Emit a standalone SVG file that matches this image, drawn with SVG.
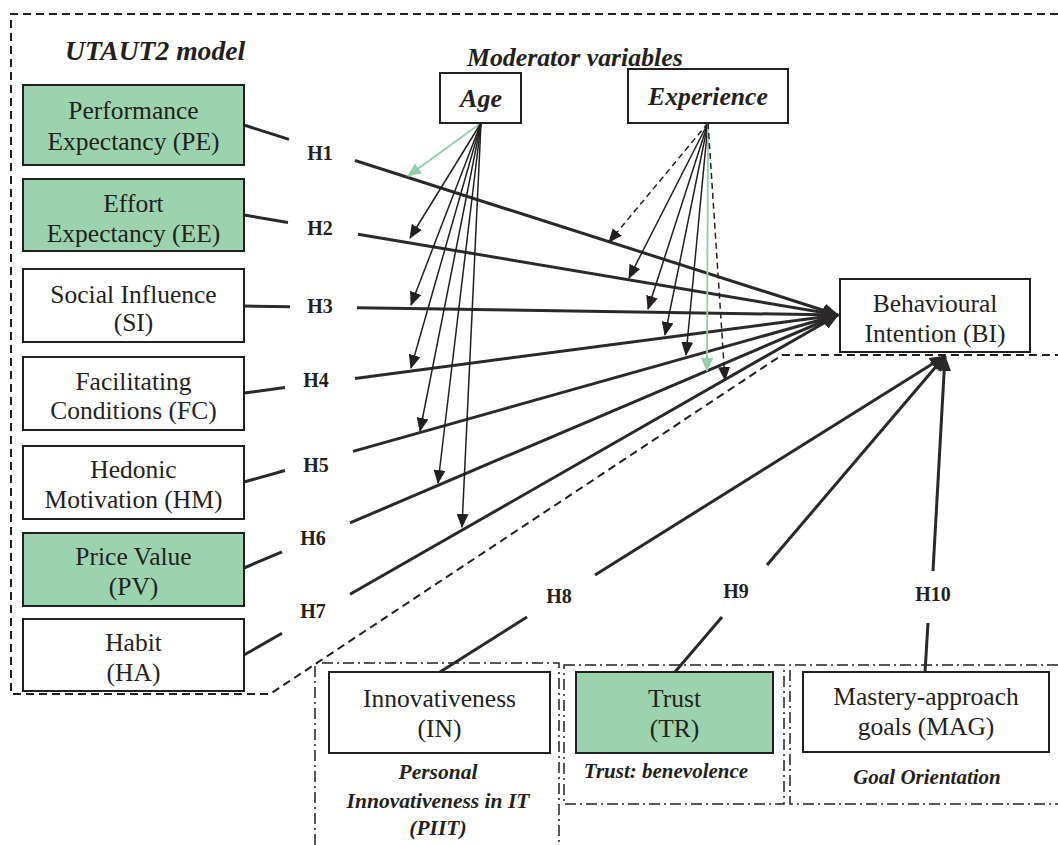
<svg xmlns="http://www.w3.org/2000/svg" width="1058" height="845" viewBox="0 0 1058 845">
<defs>
<style>
.box{fill:#ffffff;stroke:#231f20;stroke-width:2}
.g{fill:#9cd3af}
.t{font-family:"Liberation Serif","Times New Roman",serif;font-size:25.5px;fill:#231f20;text-anchor:middle}
.bi{font-family:"Liberation Serif","Times New Roman",serif;font-weight:bold;font-style:italic;fill:#231f20}
.h{font-family:"Liberation Serif","Times New Roman",serif;font-weight:bold;font-size:20px;fill:#231f20;text-anchor:middle}
.main{fill:none;stroke:#2b2829;stroke-width:3}
.mod{fill:none;stroke:#231f20;stroke-width:1.5}
.modg{fill:none;stroke:#8fd0a8;stroke-width:1.8}
.dash{stroke-dasharray:6 4}
.outer{fill:none;stroke:#231f20;stroke-width:2;stroke-dasharray:8 5}
.dd{fill:none;stroke:#231f20;stroke-width:1.5;stroke-dasharray:11 4 2 4}
</style>
<marker id="ab" markerUnits="userSpaceOnUse" markerWidth="14" markerHeight="12" refX="13" refY="6" orient="auto" viewBox="0 0 14 12"><path d="M0,0 L14,6 L0,12 Z" fill="#231f20"/></marker>
<marker id="ag" markerUnits="userSpaceOnUse" markerWidth="14" markerHeight="12" refX="13" refY="6" orient="auto" viewBox="0 0 14 12"><path d="M0,0 L14,6 L0,12 Z" fill="#8fd0a8"/></marker>
<marker id="am" markerUnits="userSpaceOnUse" markerWidth="16" markerHeight="14" refX="15" refY="7" orient="auto" viewBox="0 0 16 14"><path d="M0,0 L16,7 L0,14 Z" fill="#2b2829"/></marker>
</defs>
<rect width="1058" height="845" fill="#ffffff"/>

<g id="frames">
<path class="outer" d="M1058,14 L11,14 L11,694 L270,694 L782,355 L1058,355"/>
<path class="dd" d="M315,845 L315,663 L559,663 L559,845"/>
<path class="dd" d="M564,665 L784,665 L784,804 L564,804 Z"/>
<path class="dd" d="M1058,665 L790,665 L790,804 L1058,804"/>
<text class="bi" x="65" y="60" font-size="27.6">UTAUT2 model</text>
<text class="bi" x="467" y="66" font-size="25.8">Moderator variables</text>
<text class="bi" x="438" y="779" font-size="21.5" text-anchor="middle">Personal</text>
<text class="bi" x="438" y="808" font-size="21.5" text-anchor="middle">Innovativeness in IT</text>
<text class="bi" x="438" y="835" font-size="21.5" text-anchor="middle">(PIIT)</text>
<text class="bi" x="666" y="778" font-size="21" text-anchor="middle">Trust: benevolence</text>
<text class="bi" x="927" y="784" font-size="21" text-anchor="middle">Goal Orientation</text>
</g>

<g id="connectors">
<line class="main" x1="244" y1="125" x2="289" y2="139.4"/>
<line class="main" x1="355" y1="160.5" x2="838" y2="315" marker-end="url(#am)"/>
<line class="main" x1="244" y1="215" x2="288" y2="222.4"/>
<line class="main" x1="358" y1="234.2" x2="838" y2="315" marker-end="url(#am)"/>
<line class="main" x1="244" y1="306" x2="290" y2="306.7"/>
<line class="main" x1="357" y1="307.7" x2="838" y2="315" marker-end="url(#am)"/>
<line class="main" x1="244" y1="393" x2="285" y2="387.6"/>
<line class="main" x1="355" y1="378.4" x2="838" y2="315" marker-end="url(#am)"/>
<line class="main" x1="244" y1="482" x2="285" y2="470.5"/>
<line class="main" x1="353" y1="451.4" x2="838" y2="315" marker-end="url(#am)"/>
<line class="main" x1="244" y1="568" x2="282" y2="551.8"/>
<line class="main" x1="350" y1="522.9" x2="838" y2="315" marker-end="url(#am)"/>
<line class="main" x1="244" y1="655" x2="282" y2="633.2"/>
<line class="main" x1="350" y1="594.3" x2="838" y2="315" marker-end="url(#am)"/>
<line class="main" x1="440" y1="672" x2="527" y2="617"/>
<line class="main" x1="595" y1="575" x2="945" y2="356" marker-end="url(#am)"/>
<line class="main" x1="675" y1="672" x2="722" y2="617"/>
<line class="main" x1="767" y1="565" x2="945" y2="356" marker-end="url(#am)"/>
<line class="main" x1="925" y1="672" x2="928" y2="623"/>
<line class="main" x1="933" y1="571" x2="945" y2="356" marker-end="url(#am)"/>

<line class="modg" x1="481" y1="123" x2="408" y2="176" marker-end="url(#ag)"/>
<line class="mod" x1="481" y1="123" x2="410" y2="238" marker-end="url(#ab)"/>
<line class="mod" x1="481" y1="123" x2="411" y2="305" marker-end="url(#ab)"/>
<line class="mod" x1="481" y1="123" x2="411" y2="368" marker-end="url(#ab)"/>
<line class="mod" x1="481" y1="123" x2="420" y2="431" marker-end="url(#ab)"/>
<line class="mod" x1="481" y1="123" x2="438" y2="483" marker-end="url(#ab)"/>
<line class="mod" x1="481" y1="123" x2="462" y2="527" marker-end="url(#ab)"/>

<line class="mod dash" x1="708" y1="123" x2="609" y2="242" marker-end="url(#ab)"/>
<line class="mod" x1="708" y1="123" x2="629" y2="278" marker-end="url(#ab)"/>
<line class="mod" x1="708" y1="123" x2="648" y2="309" marker-end="url(#ab)"/>
<line class="mod" x1="708" y1="123" x2="665" y2="335" marker-end="url(#ab)"/>
<line class="mod" x1="708" y1="123" x2="686" y2="355" marker-end="url(#ab)"/>
<line class="modg" x1="708" y1="123" x2="707" y2="371" marker-end="url(#ag)"/>
<line class="mod dash" x1="708" y1="123" x2="725" y2="380" marker-end="url(#ab)"/>

<text class="h" x="320" y="160">H1</text>
<text class="h" x="320" y="235">H2</text>
<text class="h" x="320" y="313">H3</text>
<text class="h" x="316" y="387">H4</text>
<text class="h" x="316" y="472">H5</text>
<text class="h" x="313" y="545">H6</text>
<text class="h" x="313" y="618">H7</text>
<text class="h" x="559" y="603">H8</text>
<text class="h" x="736" y="598">H9</text>
<text class="h" x="933" y="601">H10</text>
</g>

<g id="PE"><rect class="box g" x="23" y="85" width="221" height="80"/><text class="t" x="133.5" y="119">Performance</text><text class="t" x="133.5" y="150">Expectancy (PE)</text></g>
<g id="EE"><rect class="box g" x="23" y="179" width="221" height="72"/><text class="t" x="133.5" y="212">Effort</text><text class="t" x="133.5" y="242">Expectancy (EE)</text></g>
<g id="SI"><rect class="box" x="23" y="269" width="221" height="73"/><text class="t" x="133.5" y="303">Social Influence</text><text class="t" x="133.5" y="331">(SI)</text></g>
<g id="FC"><rect class="box" x="23" y="357" width="221" height="73"/><text class="t" x="133.5" y="390">Facilitating</text><text class="t" x="133.5" y="419">Conditions (FC)</text></g>
<g id="HM"><rect class="box" x="23" y="446" width="221" height="73"/><text class="t" x="133.5" y="478">Hedonic</text><text class="t" x="133.5" y="508">Motivation (HM)</text></g>
<g id="PV"><rect class="box g" x="23" y="533" width="221" height="73"/><text class="t" x="133.5" y="565">Price Value</text><text class="t" x="133.5" y="595">(PV)</text></g>
<g id="HA"><rect class="box" x="23" y="619" width="221" height="72"/><text class="t" x="133.5" y="651">Habit</text><text class="t" x="133.5" y="681">(HA)</text></g>

<g id="Age"><rect class="box" x="440" y="73" width="81" height="50"/><text class="bi" x="481" y="107" font-size="26" text-anchor="middle">Age</text></g>
<g id="Experience"><rect class="box" x="628" y="69" width="160" height="54"/><text class="bi" x="708" y="105" font-size="25.7" text-anchor="middle">Experience</text></g>

<g id="BI"><rect class="box" x="840" y="279" width="190" height="73"/><text class="t" x="935" y="312">Behavioural</text><text class="t" x="935" y="342">Intention (BI)</text></g>

<g id="IN"><rect class="box" x="329" y="672" width="221" height="81"/><text class="t" x="439.5" y="707">Innovativeness</text><text class="t" x="439.5" y="737">(IN)</text></g>
<g id="TR"><rect class="box g" x="576" y="672" width="197" height="81"/><text class="t" x="674.5" y="707">Trust</text><text class="t" x="674.5" y="737">(TR)</text></g>
<g id="MAG"><rect class="box" x="803" y="672" width="246" height="80"/><text class="t" x="926" y="705">Mastery-approach</text><text class="t" x="926" y="735">goals (MAG)</text></g>
</svg>
